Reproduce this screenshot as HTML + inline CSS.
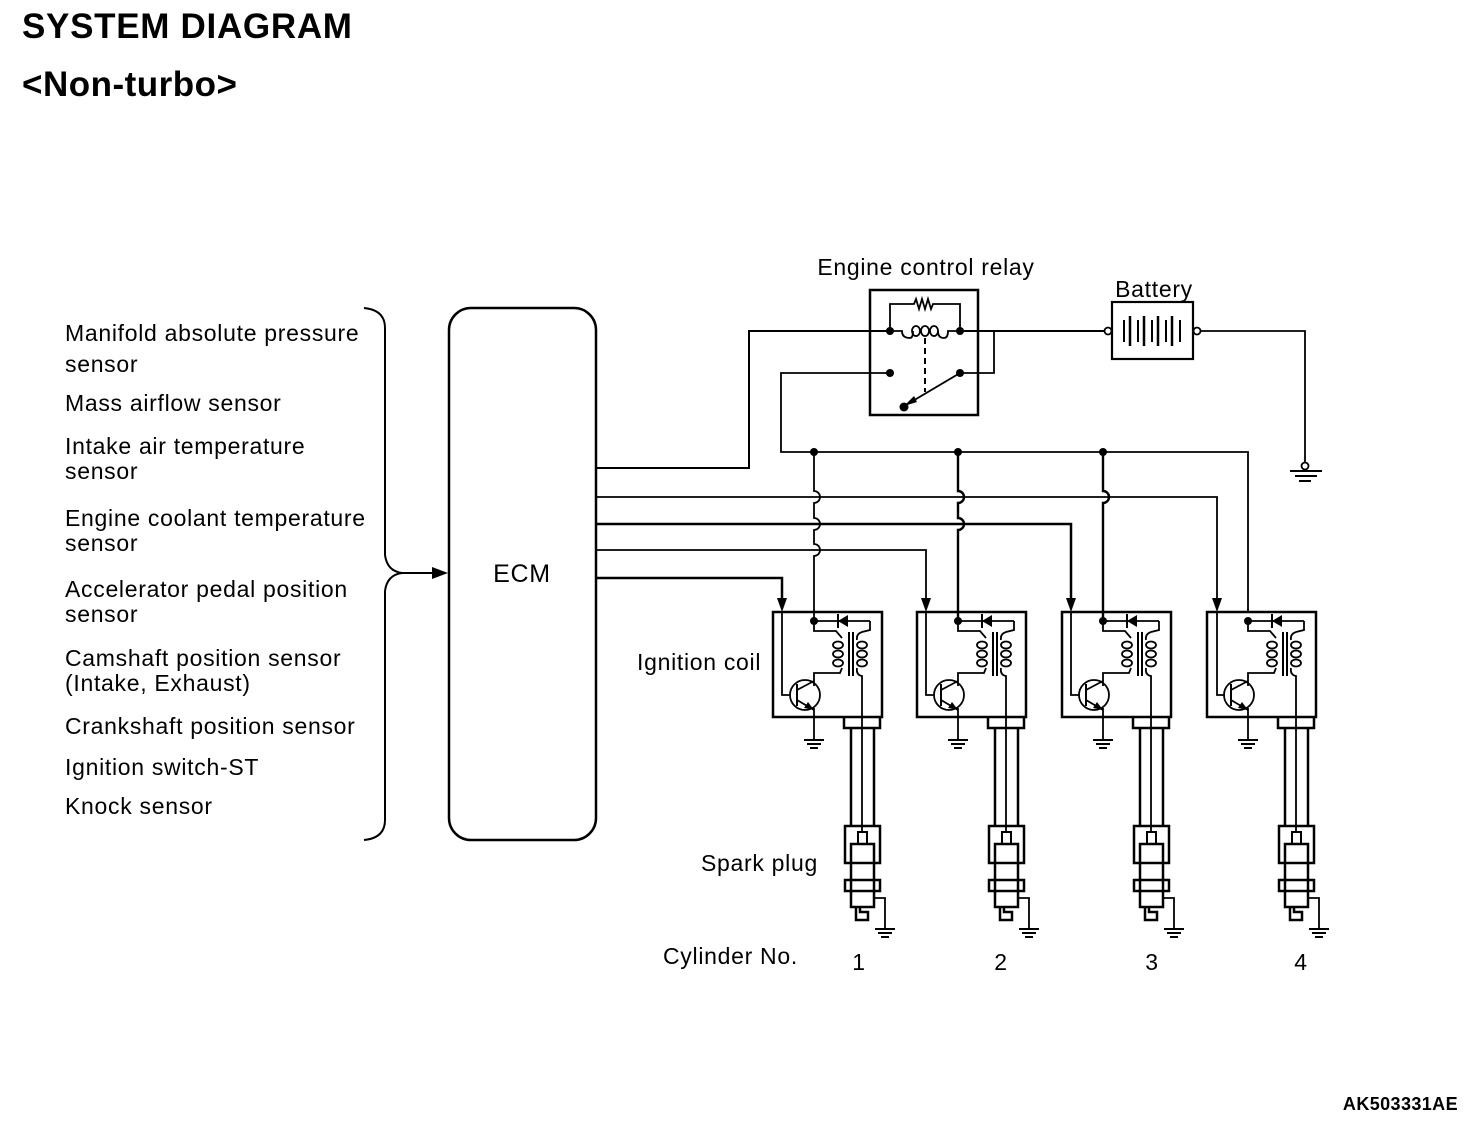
<!DOCTYPE html>
<html><head><meta charset="utf-8"><style>
html,body{margin:0;padding:0;background:#fff;}
svg{display:block;}
text{font-family:"Liberation Sans",Arial,sans-serif;fill:#000;}
</style></head><body>
<svg width="1472" height="1136" viewBox="0 0 1472 1136" xmlns="http://www.w3.org/2000/svg">
<defs>
<g id="coil" fill="none" stroke="#000" stroke-width="1.8">
  <rect x="773" y="612" width="109" height="105" stroke-width="2.5"/>
  <circle cx="814" cy="621" r="4" fill="#000" stroke="none"/>
  <line x1="814" y1="621" x2="870" y2="621"/>
  <polygon points="838,621 848,615 848,627" fill="#000" stroke="none"/>
  <line x1="838" y1="614" x2="838" y2="628" stroke-width="2"/>
  <polyline points="870,621 870,630 862,632"/>
  <polyline points="814,621 814,631 836,631 842,638"/>
  <ellipse cx="838" cy="645" rx="5" ry="3.5"/>
  <ellipse cx="838" cy="654" rx="5" ry="3.5"/>
  <ellipse cx="838" cy="663" rx="5" ry="3.5"/>
  <polyline points="842,668 840,673 814,673 814,686"/>
  <line x1="849" y1="632" x2="849" y2="676" stroke-width="2"/>
  <line x1="853" y1="632" x2="853" y2="676" stroke-width="2"/>
  <path d="M862,632 Q856,634 857,640"/>
  <ellipse cx="862" cy="645" rx="5" ry="3.5"/>
  <ellipse cx="862" cy="654" rx="5" ry="3.5"/>
  <ellipse cx="862" cy="663" rx="5" ry="3.5"/>
  <path d="M857,668 Q856,675 862,676 L862,727"/>
  <circle cx="805" cy="695" r="15"/>
  <line x1="797" y1="684" x2="797" y2="706" stroke-width="2"/>
  <line x1="797" y1="690" x2="814" y2="681"/>
  <line x1="797" y1="700" x2="814" y2="710"/>
  <polygon points="814,710 804,708 808,702" fill="#000" stroke="none"/>
  <line x1="814" y1="708" x2="814" y2="740"/>
  <line x1="804" y1="740" x2="824" y2="740" stroke-width="2"/>
  <line x1="807" y1="744" x2="821" y2="744" stroke-width="2"/>
  <line x1="810" y1="748" x2="818" y2="748" stroke-width="2"/>
  <polyline points="844,717 844,728 880,728 880,717" stroke-width="2.5"/>
  <line x1="851" y1="728" x2="851" y2="826" stroke-width="2.5"/>
  <line x1="862" y1="727" x2="862" y2="832"/>
  <line x1="874" y1="728" x2="874" y2="826" stroke-width="2.5"/>
  <rect x="845" y="826" width="35" height="37" stroke-width="2.5"/>
  <rect x="858" y="832" width="9" height="12" stroke-width="2"/>
  <rect x="851" y="844" width="23" height="63" stroke-width="2.5"/>
  <line x1="851" y1="863" x2="874" y2="863" stroke-width="2"/>
  <rect x="845" y="880" width="35" height="11" stroke-width="2.5"/>
  <polyline points="856,907 856,920 868,920 868,912 860,912 860,907" stroke-width="2.5"/>
  <polyline points="874,898 885,898 885,928" stroke-width="1.8"/>
  <line x1="875" y1="929" x2="895" y2="929" stroke-width="2"/>
  <line x1="878" y1="933" x2="892" y2="933" stroke-width="2"/>
  <line x1="881" y1="937" x2="889" y2="937" stroke-width="2"/>
</g>
</defs>

<text x="22" y="38" font-size="35" font-weight="bold" letter-spacing="0.7">SYSTEM DIAGRAM</text>
<text x="22" y="96" font-size="35" font-weight="bold" letter-spacing="0.5">&lt;Non-turbo&gt;</text>
<text x="1458" y="1110" font-size="18" font-weight="bold" text-anchor="end" letter-spacing="0.4">AK503331AE</text>

<g font-size="23" letter-spacing="0.7">
<text x="65" y="341">Manifold absolute pressure</text>
<text x="65" y="372">sensor</text>
<text x="65" y="411">Mass airflow sensor</text>
<text x="65" y="454">Intake air temperature</text>
<text x="65" y="479">sensor</text>
<text x="65" y="526">Engine coolant temperature</text>
<text x="65" y="551">sensor</text>
<text x="65" y="597">Accelerator pedal position</text>
<text x="65" y="622">sensor</text>
<text x="65" y="666">Camshaft position sensor</text>
<text x="65" y="691">(Intake, Exhaust)</text>
<text x="65" y="734">Crankshaft position sensor</text>
<text x="65" y="775">Ignition switch-ST</text>
<text x="65" y="814">Knock sensor</text>
<text x="522" y="582" text-anchor="middle" font-size="25">ECM</text>
<text x="926" y="275" text-anchor="middle">Engine control relay</text>
<text x="1154" y="297" text-anchor="middle">Battery</text>
<text x="637" y="670">Ignition coil</text>
<text x="701" y="871">Spark plug</text>
<text x="663" y="964">Cylinder No.</text>
<text x="859" y="970" text-anchor="middle">1</text>
<text x="1001" y="970" text-anchor="middle">2</text>
<text x="1152" y="970" text-anchor="middle">3</text>
<text x="1301" y="970" text-anchor="middle">4</text>
</g>

<g fill="none" stroke="#000" stroke-width="1.8">
  <path d="M364,308 Q385,310 385,328 L385,555 Q387,571 402,573 Q387,575 385,591 L385,820 Q385,838 364,840" stroke-width="2"/>
  <line x1="402" y1="573" x2="436" y2="573" stroke-width="2"/>
  <polygon points="448,573 432,567 432,579" fill="#000" stroke="none"/>
  <rect x="449" y="308" width="147" height="532" rx="22" ry="22" stroke-width="2.5"/>

  <rect x="870" y="290" width="108" height="125" stroke-width="2.5"/>
  <polyline points="890,331 890,304 914,304 916,299 919,309 922,299 925,309 928,299 931,309 933,304 960,304 960,331"/>
  <path d="M890,331 L902,331 Q902,338 910,338 Q913,338 913,331"/>
  <ellipse cx="916" cy="331" rx="4" ry="5"/>
  <ellipse cx="925" cy="331" rx="4" ry="5"/>
  <ellipse cx="934" cy="331" rx="4" ry="5"/>
  <path d="M938,331 Q938,338 944,338 Q948,338 948,331 L960,331"/>
  <line x1="925" y1="338" x2="925" y2="392" stroke-dasharray="6,4" stroke-width="2"/>
  <line x1="960" y1="373" x2="906" y2="405" stroke-width="1.8"/>
  <polygon points="904,406 914,396 917,402" fill="#000" stroke="none"/>
  <g fill="#000" stroke="none">
    <circle cx="890" cy="331" r="4"/><circle cx="960" cy="331" r="4"/>
    <circle cx="890" cy="373" r="4"/><circle cx="960" cy="373" r="4"/>
    <circle cx="904" cy="407" r="4.5"/>
  </g>
  <polyline points="596,468 749,468 749,331 890,331" stroke-width="2"/>
  <line x1="960" y1="331" x2="1105" y2="331" stroke-width="2"/>
  <polyline points="994,331 994,373 960,373"/>
  <polyline points="890,373 781,373 781,452 1248,452 1248,612"/>
  <rect x="1112" y="302" width="81" height="57" stroke-width="2.2"/>
  <circle cx="1108" cy="331" r="3.5"/>
  <circle cx="1197" cy="331" r="3.5"/>
  <g stroke-width="2">
    <line x1="1124" y1="320" x2="1124" y2="342"/>
    <line x1="1130" y1="316" x2="1130" y2="346" stroke-width="2.5"/>
    <line x1="1138" y1="320" x2="1138" y2="342"/>
    <line x1="1144" y1="316" x2="1144" y2="346" stroke-width="2.5"/>
    <line x1="1152" y1="320" x2="1152" y2="342"/>
    <line x1="1158" y1="316" x2="1158" y2="346" stroke-width="2.5"/>
    <line x1="1166" y1="320" x2="1166" y2="342"/>
    <line x1="1172" y1="316" x2="1172" y2="346" stroke-width="2.5"/>
    <line x1="1180" y1="320" x2="1180" y2="342"/>
  </g>
  <polyline points="1200,331 1305,331 1305,462"/>
  <circle cx="1305" cy="466" r="3.5"/>
  <line x1="1290" y1="471" x2="1322" y2="471" stroke-width="2"/>
  <line x1="1295" y1="476" x2="1317" y2="476" stroke-width="2"/>
  <line x1="1299" y1="481" x2="1311" y2="481" stroke-width="2"/>

  <path d="M814,452 L814,491 a6,6 0 0 1 0,12 L814,518 a6,6 0 0 1 0,12 L814,544 a6,6 0 0 1 0,12 L814,621" stroke-width="1.8"/>
  <path d="M958,452 L958,491 a6,6 0 0 1 0,12 L958,518 a6,6 0 0 1 0,12 L958,621" stroke-width="2.4"/>
  <path d="M1103,452 L1103,491 a6,6 0 0 1 0,12 L1103,621" stroke-width="2.4"/>
  <g fill="#000" stroke="none">
    <circle cx="814" cy="452" r="4"/><circle cx="958" cy="452" r="4"/><circle cx="1103" cy="452" r="4"/>
  </g>
  <polyline points="596,497 1217,497 1217,600"/>
  <polyline points="596,524 1071,524 1071,600" stroke-width="2.5"/>
  <polyline points="596,550 926,550 926,600"/>
  <polyline points="596,578 782,578 782,600" stroke-width="2.5"/>
  <g fill="#000" stroke="none">
    <polygon points="777,598 787,598 782,612"/>
    <polygon points="921,598 931,598 926,612"/>
    <polygon points="1066,598 1076,598 1071,612"/>
    <polygon points="1212,598 1222,598 1217,612"/>
  </g>
  <polyline points="782,612 782,695 790,695"/>
  <polyline points="926,612 926,695 934,695"/>
  <polyline points="1071,612 1071,695 1079,695"/>
  <polyline points="1217,612 1217,695 1225,695"/>
</g>

<use href="#coil"/>
<use href="#coil" transform="translate(144,0)"/>
<use href="#coil" transform="translate(289,0)"/>
<use href="#coil" transform="translate(434,0)"/>
</svg>
</body></html>
